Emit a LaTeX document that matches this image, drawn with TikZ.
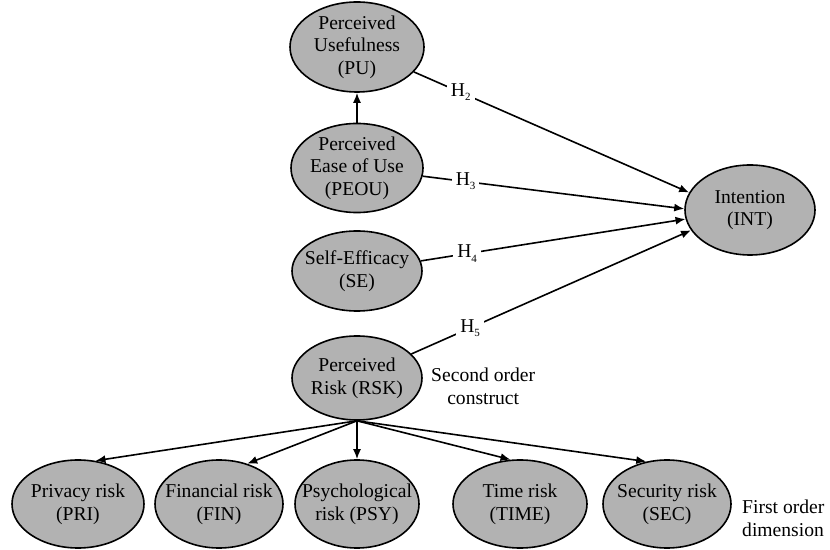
\documentclass[tikz,border=0pt]{standalone}
\usepackage{fontspec}
\setmainfont{Liberation Serif}
\usetikzlibrary{arrows.meta,positioning,shapes.geometric}
\newcommand{\hypsub}[1]{\raisebox{-0.45ex}{\fontsize{5.5}{6}\selectfont #1}}
\tikzset{
    modelvar/.style={ellipse,draw,thick,fill=black!30,align=center,inner xsep=-6pt,inner ysep=0pt,minimum width=65pt,minimum height=44pt,font=\fontsize{9.8}{11.3}\selectfont},
    modelline/.style={-{Latex[length=5pt,width=4pt]},thick},
    hyplabel/.style={fill=white,inner sep=2pt,font=\fontsize{9.8}{11.3}\selectfont},
    modelnote/.style={align=left,inner sep=0pt,font=\fontsize{9.8}{11.3}\selectfont}
}
\begin{document}
\begin{tikzpicture}[x=0.5pt,y=-0.5pt]
            \useasboundingbox (0,0) rectangle (830,550);
            \node[modelvar,minimum width=67pt,minimum height=45pt] (pu) at (357,47) {Perceived\\Usefulness\\(PU)};
            \node[modelvar,minimum width=66pt] (peou) at (357,168) {Perceived\\Ease of Use\\(PEOU)};
            \node[modelvar,minimum height=40pt] (se) at (357,271) {Self-Efficacy\\(SE)};
            \node[modelvar,minimum height=42pt] (rsk) at (357,378) {Perceived\\Risk (RSK)};
            \node[modelvar,minimum height=45pt] (int) at (750,210) {Intention\\(INT)};
            \node[modelvar,minimum width=66pt] (pri) at (78,504) {Privacy risk\\(PRI)};
            \node[modelvar,minimum width=64pt] (fin) at (219,504) {Financial risk\\(FIN)};
            \node[modelvar,minimum width=62pt] (psy) at (357,504) {Psychological\\risk (PSY)};
            \node[modelvar,minimum width=67pt] (time) at (520,504) {Time risk\\(TIME)};
            \node[modelvar,minimum width=64pt] (sec) at (667,504) {Security risk\\(SEC)};
            \node[modelnote,align=center,anchor=west,right=4pt of rsk.east,yshift=-4pt] (second) {Second order\\construct};
            \node[modelnote,anchor=west,right=5pt of sec.east,yshift=-7pt] (first) {First order\\dimension};
            \draw[modelline] (peou) -- (pu);
            \draw[modelline] (pu) -- node[hyplabel,pos=0.17]{H\hypsub{2}} (int.164);
            \draw[modelline] (peou) -- node[hyplabel,pos=0.164]{H\hypsub{3}} (int.179);
            \draw[modelline] (se) -- node[hyplabel,pos=0.175]{H\hypsub{4}} (int.-172);
            \draw[modelline] (rsk) -- node[hyplabel,pos=0.21]{H\hypsub{5}} (int.-161);
            \draw[modelline] (rsk.south) -- (pri.68);
            \draw[modelline] (rsk.south) -- (fin.55);
            \draw[modelline] (rsk.south) -- (psy.north);
            \draw[modelline] (rsk.south) -- (time.102);
            \draw[modelline] (rsk.south) -- (sec.116);
        \end{tikzpicture}
\end{document}
